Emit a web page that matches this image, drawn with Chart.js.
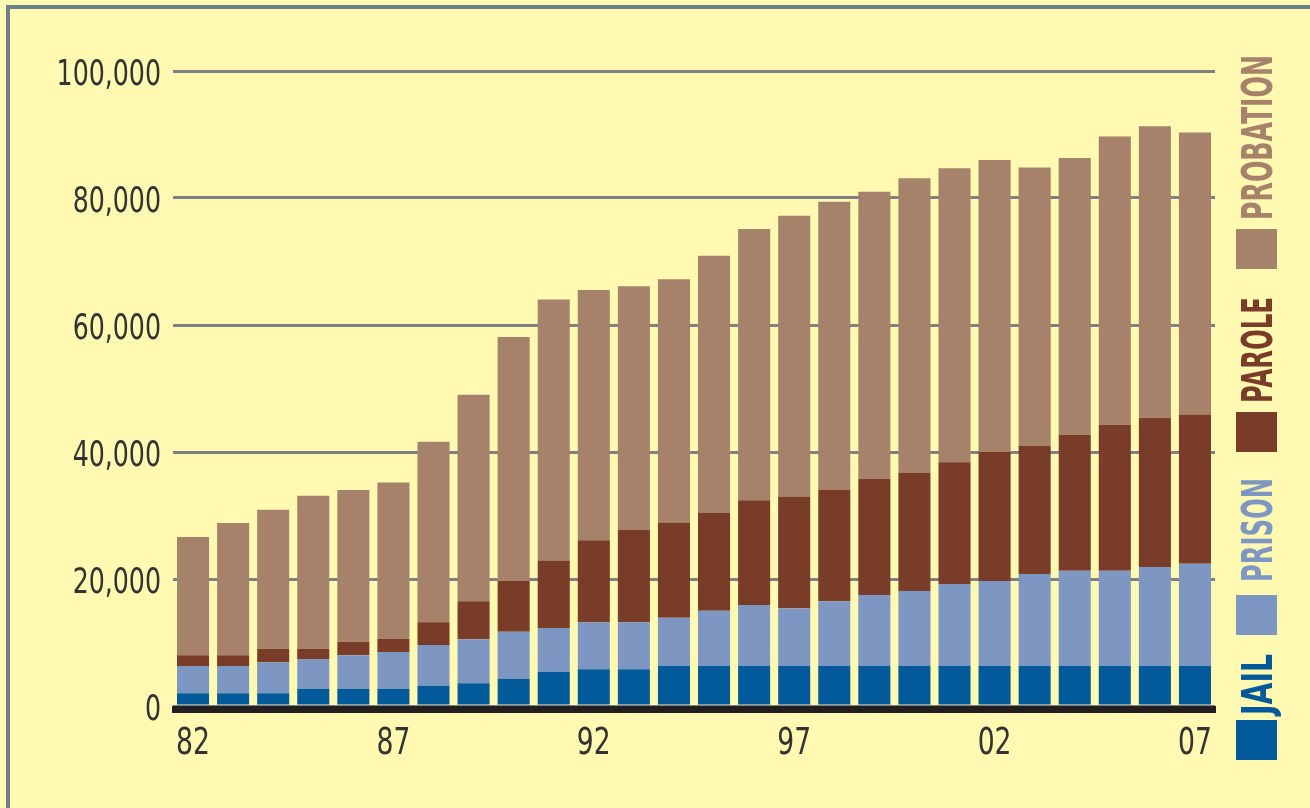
<!DOCTYPE html>
<html lang="en">
<head>
    <meta charset="UTF-8">
    <title>Corrections population, 1982-2007</title>
    <script src="https://cdn.jsdelivr.net/npm/chart.js@4/dist/chart.umd.min.js"></script>
    <style>
        body { margin: 0; background: #FFF9B1; }
        #wrap { width: 1310px; height: 808px; }
    </style>
</head>
<body>
    <div id="wrap">
        <canvas id="chart" width="1310" height="808"></canvas>
    </div>

    <script>
        // data
        const years = ['82','83','84','85','86','87','88','89','90','91','92','93','94',
                       '95','96','97','98','99','00','01','02','03','04','05','06','07'];
        const shownYears = ['82','87','92','97','02','07'];
        const yTicks = [0, 20000, 40000, 60000, 80000, 100000];

        const jail = [2000,2000,2000,2700,2700,2700,3200,3600,4300,5400,5800,5800,6300,
                      6300,6300,6300,6300,6300,6300,6300,6300,6300,6300,6300,6300,6300];
        const prison = [4300,4300,4900,4700,5300,5800,6400,6900,7400,6900,7400,7400,7600,
                        8700,9600,9100,10200,11200,11800,12900,13400,14500,15000,15000,15600,16100];
        const parole = [1700,1700,2100,1600,2100,2100,3600,6000,8000,10600,12900,14500,15000,
                        15400,16500,17600,17500,18300,18600,19200,20300,20200,21400,23000,23500,23500];
        const probation = [18600,20800,21900,24100,23900,24600,28400,32500,38400,41100,39400,38400,38300,
                           40500,42700,44200,45400,45200,46400,46300,46000,43800,43600,45400,45900,44400];

        const seriesNames = ['JAIL', 'PRISON', 'PAROLE', 'PROBATION'];
        const seriesColors = ['#025A9A', '#7D96C2', '#793C28', '#A6826B'];

        const narrow = "'Liberation Sans Narrow', 'DejaVu Sans Condensed', sans-serif";
        const labelColor = '#333333';

        // squeezed text, the original uses a condensed face
        function squeezed(ctx, text, x, y, sx, align) {
            ctx.save();
            ctx.translate(x, y);
            ctx.scale(sx, 1);
            ctx.textAlign = align;
            ctx.textBaseline = 'middle';
            ctx.fillText(text, 0, 0);
            ctx.restore();
        }

        // background, frame, black base line, tick labels and the rotated legend
        const decor = {
            id: 'decor',
            beforeDraw(chart) {
                const ctx = chart.ctx;
                ctx.save();
                ctx.fillStyle = '#FFF9B1';
                ctx.fillRect(0, 0, chart.width, chart.height);
                ctx.fillStyle = '#6B8088';
                ctx.fillRect(6, 5, 4, chart.height - 5);
                ctx.fillRect(6, 5, chart.width - 6, 4);
                ctx.restore();
            },
            afterDatasetsDraw(chart) {
                const ctx = chart.ctx;
                const a = chart.chartArea;
                ctx.save();
                ctx.fillStyle = '#231F20';
                ctx.fillRect(a.left - 1, a.bottom, a.right - a.left + 2, 7);
                ctx.restore();
            },
            afterDraw(chart) {
                const ctx = chart.ctx;
                const xs = chart.scales.x;
                const ys = chart.scales.y;
                ctx.save();
                ctx.fillStyle = labelColor;
                ctx.font = '36px ' + narrow;
                ys.ticks.forEach(t => {
                    squeezed(ctx, t.value.toLocaleString('en-US'), 161, ys.getPixelForValue(t.value) + 5, 0.78, 'right');
                });
                ctx.font = '37px ' + narrow;
                years.forEach((yr, i) => {
                    if (shownYears.includes(yr)) {
                        squeezed(ctx, yr, xs.getPixelForValue(i), 744, 0.8, 'center');
                    }
                });

                const boxTops = [720, 595, 412, 229];
                const gaps = [5, 13, 9, 9];
                const textLen = [61, 104, 106, 165];
                chart.data.datasets.forEach((ds, i) => {
                    ctx.fillStyle = ds.backgroundColor;
                    ctx.fillRect(1236, boxTops[i], 41, 40);
                    ctx.save();
                    ctx.translate(1272, boxTops[i] - gaps[i]);
                    ctx.rotate(-Math.PI / 2);
                    ctx.font = 'bold 42px ' + narrow;
                    ctx.textAlign = 'left';
                    ctx.textBaseline = 'alphabetic';
                    ctx.fillText(ds.label, 0, 0, textLen[i]);
                    ctx.restore();
                });
                ctx.restore();
            }
        };

        const datasets = [jail, prison, parole, probation].map((vals, i) => ({
            label: seriesNames[i],
            data: vals,
            backgroundColor: seriesColors[i],
            borderWidth: 0,
            barPercentage: 0.8,
            categoryPercentage: 1.0
        }));

        new Chart(document.getElementById('chart'), {
            type: 'bar',
            data: { labels: years, datasets: datasets },
            plugins: [decor],
            options: {
                responsive: false,
                animation: false,
                layout: { padding: { top: 71, right: 95, bottom: 0, left: 0 } },
                plugins: {
                    legend: { display: false },
                    tooltip: { enabled: false }
                },
                scales: {
                    x: {
                        stacked: true,
                        grid: { display: false, drawTicks: false },
                        border: { display: false },
                        afterFit(scale) { scale.height = 102; },
                        ticks: { display: false }
                    },
                    y: {
                        stacked: true,
                        min: 0,
                        max: 100000,
                        afterBuildTicks(scale) {
                            scale.ticks = yTicks.map(v => ({ value: v }));
                        },
                        afterFit(scale) { scale.width = 173; },
                        grid: {
                            color: '#808080',
                            lineWidth: 3,
                            drawTicks: false
                        },
                        border: { display: false },
                        ticks: { display: false }
                    }
                }
            }
        });
    </script>
</body>
</html>
